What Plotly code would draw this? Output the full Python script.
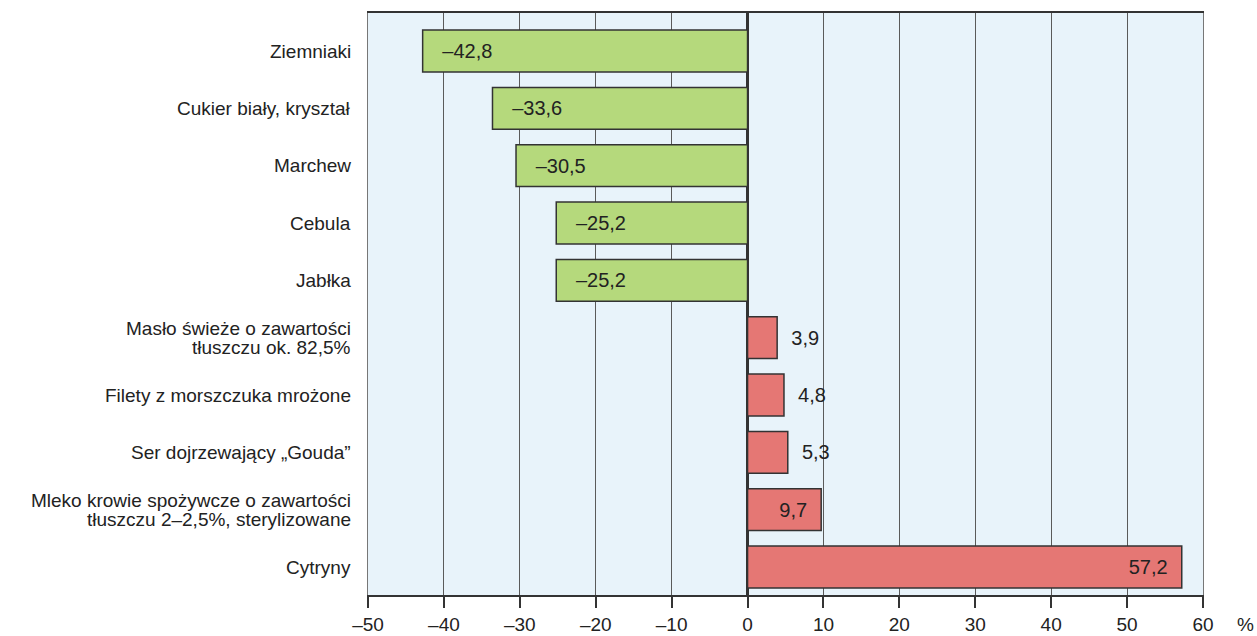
import plotly.graph_objects as go

categories = [
    "Ziemniaki",
    "Cukier biały, kryształ",
    "Marchew",
    "Cebula",
    "Jabłka",
    "Masło świeże o zawartości<br>tłuszczu ok. 82,5%",
    "Filety z morszczuka mrożone",
    "Ser dojrzewający „Gouda”",
    "Mleko krowie spożywcze o zawartości<br>tłuszczu 2–2,5%, sterylizowane",
    "Cytryny",
]
values = [-42.8, -33.6, -30.5, -25.2, -25.2, 3.9, 4.8, 5.3, 9.7, 57.2]
x_tick_vals = [-50, -40, -30, -20, -10, 0, 10, 20, 30, 40, 50, 60]
x_tick_text = ["–50", "–40", "–30", "–20", "–10", "0", "10", "20", "30", "40", "50", "60"]
outside_labels = ["Masło świeże o zawartości<br>tłuszczu ok. 82,5%",
                  "Filety z morszczuka mrożone",
                  "Ser dojrzewający „Gouda”"]

GREEN = "#b5d97c"
RED = "#e57774"
NB = "\u00a0"
FONT = "Liberation Sans, Arial, sans-serif"


def fmt(v):
    s = f"{abs(v):.1f}".replace(".", ",")
    return ("–" + s) if v < 0 else s


texts, positions, colors = [], [], []
for c, v in zip(categories, values):
    if v < 0:
        texts.append(NB * 3 + fmt(v))
        positions.append("inside")
        colors.append(GREEN)
    elif c in outside_labels:
        texts.append(NB * 2 + fmt(v))
        positions.append("outside")
        colors.append(RED)
    else:
        texts.append(fmt(v) + NB * 2)
        positions.append("inside")
        colors.append(RED)

fig = go.Figure(go.Bar(
    x=values,
    y=categories,
    orientation="h",
    width=0.73,
    marker=dict(color=colors, line=dict(color="#333333", width=1.5)),
    text=texts,
    textposition=positions,
    insidetextanchor="end",
    textangle=0,
    textfont=dict(size=20, color="#222222", family=FONT),
    cliponaxis=False,
    hoverinfo="skip",
))

fig.update_layout(
    width=1257,
    height=636,
    margin=dict(l=368, r=54, t=13, b=41, autoexpand=False),
    paper_bgcolor="white",
    plot_bgcolor="#e8f3fa",
    font=dict(family=FONT, size=19, color="#222222"),
    showlegend=False,
)

fig.update_xaxes(
    range=[-50, 60],
    tickvals=x_tick_vals,
    ticktext=x_tick_text,
    automargin=False,
    showgrid=True,
    gridcolor="#5a5a5a",
    gridwidth=1,
    zeroline=True,
    zerolinecolor="#333333",
    zerolinewidth=3,
    showline=True,
    linecolor="#333333",
    linewidth=1.5,
    mirror=True,
    ticks="outside",
    ticklen=11,
    tickwidth=1.5,
    tickcolor="#333333",
    tickfont=dict(size=19, color="#222222"),
)

fig.update_yaxes(
    categoryorder="array",
    categoryarray=categories,
    range=[9.488, -0.663],
    automargin=False,
    showgrid=False,
    showline=True,
    linecolor="#777777",
    linewidth=1,
    mirror=True,
    ticks="",
    showticklabels=False,
)

# category labels, one annotation per line for tight line spacing
for c in categories:
    lines = c.split("<br>")
    n = len(lines)
    for i, line in enumerate(lines):
        fig.add_annotation(
            x=0, xref="paper", y=c, yref="y",
            text=line, showarrow=False,
            xanchor="right", yanchor="middle",
            xshift=-15, yshift=(n - 1) * 9.5 - i * 19,
            font=dict(size=19, color="#222222", family=FONT),
        )

fig.add_annotation(
    x=1.0, xref="paper", y=0.0, yref="paper",
    text="%", showarrow=False,
    xanchor="left", yanchor="top",
    xshift=32, yshift=-17,
    font=dict(size=19, color="#222222", family=FONT),
)

fig.write_html("out.html", config={"displayModeBar": False},
               post_script="document.body.style.margin='0';")
